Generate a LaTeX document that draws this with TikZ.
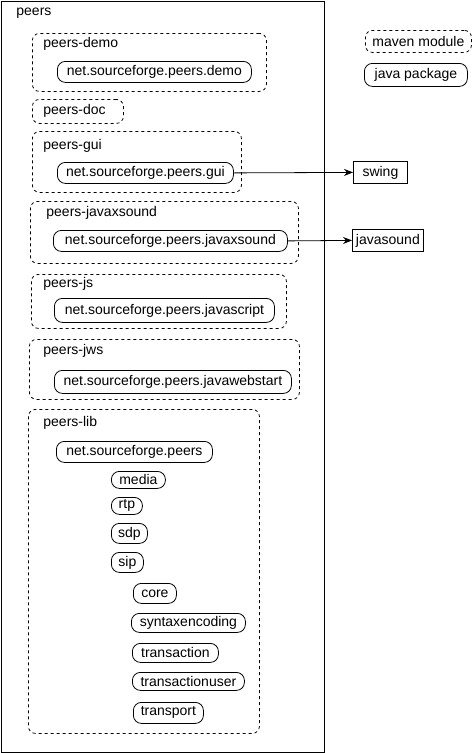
\documentclass[tikz,border=0pt]{standalone}
\usepackage{fontspec}
\setmainfont{Liberation Sans}
\usepackage{tikz}
\usetikzlibrary{arrows.meta,positioning}

\begin{document}
\begin{tikzpicture}[x=1pt, y=-1pt,
        module/.style={draw, dashed, dash pattern=on 3pt off 3pt, rounded corners=7pt, inner sep=0pt, anchor=north west},
        pkg/.style={draw, rounded corners=8pt, inner sep=0pt, anchor=north west},
        ext/.style={draw, inner sep=0pt, anchor=north west},
        every node/.style={font=\fontsize{14}{16}\selectfont},
        line width=0.8pt]
        \useasboundingbox (0, 0) rectangle (472, 753);

        % outer box
        \node[draw, inner sep=0pt, anchor=north west, minimum width=323pt, minimum height=751pt] (peers) at (1, 1) {};
        \node[anchor=west, inner sep=0pt] (peerslabel) at (16, 13) {peers};

        % legend
        \node[module, minimum width=106pt, minimum height=22pt] (legmodule) at (365, 30) {};
        \node (legmoduletext) at (legmodule.center) {maven module};
        \node[pkg, minimum width=103pt, minimum height=23pt] (legpkg) at (364, 63) {};
        \node (legpkgtext) at (legpkg.center) {java package};

        % peers-demo
        \node[module, minimum width=234pt, minimum height=58pt] (demo) at (32, 33) {};
        \node[anchor=west, inner sep=0pt] (demolabel) at (43, 44) {peers-demo};
        \node[pkg, minimum width=194pt, minimum height=21pt] (demopkg) at (57, 61) {};
        \node (demopkgtext) at (demopkg.center) {net.sourceforge.peers.demo};

        % peers-doc
        \node[module, minimum width=91pt, minimum height=24pt] (doc) at (32, 99) {};
        \node[anchor=west, inner sep=0pt] (doclabel) at (43, 111) {peers-doc};

        % peers-gui
        \node[module, minimum width=209pt, minimum height=61pt] (gui) at (32, 131) {};
        \node[anchor=west, inner sep=0pt] (guilabel) at (43, 146) {peers-gui};
        \node[pkg, minimum width=176pt, minimum height=21pt] (guipkg) at (57, 162) {};
        \node (guipkgtext) at (guipkg.center) {net.sourceforge.peers.gui};

        \node[ext, minimum width=54pt, minimum height=22pt] (swing) at (353, 161) {};
        \node (swingtext) at (swing.center) {swing};
        \draw[-{Stealth[length=9pt, width=7pt, inset=3pt]}] (guipkg.east) -- (swing.west);

        % peers-javaxsound
        \node[module, minimum width=268pt, minimum height=62pt] (javaxsound) at (30, 201) {};
        \node[anchor=west, inner sep=0pt] (javaxsoundlabel) at (46, 213) {peers-javaxsound};
        \node[pkg, minimum width=234pt, minimum height=21pt] (javaxsoundpkg) at (53, 230) {};
        \node (javaxsoundpkgtext) at (javaxsoundpkg.center) {net.sourceforge.peers.javaxsound};

        \node[ext, minimum width=71pt, minimum height=22pt] (javasound) at (352, 229) {};
        \node (javasoundtext) at (javasound.center) {javasound};
        \draw[-{Stealth[length=9pt, width=7pt, inset=3pt]}] (javaxsoundpkg.east) -- (javasound.west);

        % peers-js
        \node[module, minimum width=255pt, minimum height=54pt] (js) at (31, 274) {};
        \node[anchor=west, inner sep=0pt] (jslabel) at (43, 284) {peers-js};
        \node[pkg, minimum width=220pt, minimum height=24pt] (jspkg) at (54, 298) {};
        \node (jspkgtext) at (jspkg.center) {net.sourceforge.peers.javascript};

        % peers-jws
        \node[module, minimum width=270pt, minimum height=60pt] (jws) at (29, 339) {};
        \node[anchor=west, inner sep=0pt] (jwslabel) at (43, 351) {peers-jws};
        \node[pkg, minimum width=237pt, minimum height=23pt] (jwspkg) at (54, 370) {};
        \node (jwspkgtext) at (jwspkg.center) {net.sourceforge.peers.javawebstart};

        % peers-lib
        \node[module, minimum width=231pt, minimum height=324pt] (lib) at (28, 409) {};
        \node[anchor=west, inner sep=0pt] (liblabel) at (43, 423) {peers-lib};
        \node[pkg, minimum width=156pt, minimum height=21pt] (libpkg) at (56, 441) {};
        \node (libpkgtext) at (libpkg.center) {net.sourceforge.peers};

        \node[pkg, minimum width=54pt, minimum height=17pt] (media) at (111, 471) {};
        \node (mediatext) at (media.center) {media};
        \node[pkg, minimum width=31pt, minimum height=17pt] (rtp) at (111, 497) {};
        \node (rtptext) at (rtp.center) {rtp};
        \node[pkg, minimum width=36pt, minimum height=20pt] (sdp) at (111, 523) {};
        \node (sdptext) at (sdp.center) {sdp};
        \node[pkg, minimum width=32pt, minimum height=20pt] (sip) at (111, 552) {};
        \node (siptext) at (sip.center) {sip};

        \node[pkg, minimum width=43pt, minimum height=20pt] (core) at (133, 583) {};
        \node (coretext) at (core.center) {core};
        \node[pkg, minimum width=114pt, minimum height=19pt] (syntax) at (131, 613) {};
        \node (syntaxtext) at (syntax.center) {syntaxencoding};
        \node[pkg, minimum width=86pt, minimum height=19pt] (transaction) at (132, 643) {};
        \node (transactiontext) at (transaction.center) {transaction};
        \node[pkg, minimum width=112pt, minimum height=18pt] (transactionuser) at (132, 672) {};
        \node (transactionusertext) at (transactionuser.center) {transactionuser};
        \node[pkg, minimum width=70pt, minimum height=21pt] (transport) at (133, 702) {};
        \node (transporttext) at (transport.center) {transport};
    \end{tikzpicture}
\end{document}
